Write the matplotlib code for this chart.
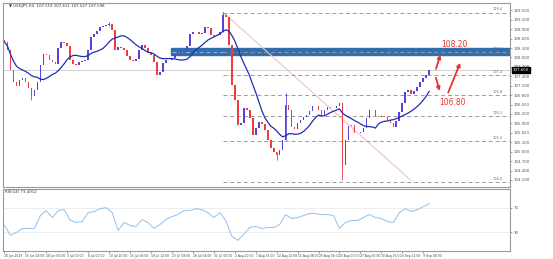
import matplotlib.pyplot as plt
import numpy as np
import pandas as pd
from matplotlib.ticker import MultipleLocator, FormatStrFormatter

# USDJPY H4 closes
closes = [108.49, 108.23, 107.60, 107.21, 107.09, 107.28, 107.34, 107.21, 107.02, 106.77,
          106.96, 107.21, 107.76, 108.10, 108.07, 107.91, 107.85, 107.79, 108.30, 108.49,
          108.45, 108.36, 107.91, 107.79, 107.76, 107.85, 107.88, 107.91, 108.23, 108.65,
          108.74, 108.84, 108.96, 108.99, 109.03, 109.06, 108.87, 108.23, 108.33, 108.30,
          108.23, 108.04, 107.91, 107.88, 107.95, 108.23, 108.39, 108.30, 108.17, 108.07,
          107.85, 107.44, 107.53, 107.82, 107.91, 107.91, 107.98, 108.07, 108.10, 108.17,
          108.20, 108.36, 108.74, 108.80, 108.80, 108.74, 108.77, 108.96, 108.93, 108.71,
          108.68, 108.71, 108.80, 109.35, 109.28, 108.39, 107.12, 106.64, 105.85, 105.91,
          106.39, 106.32, 106.07, 105.53, 105.75, 105.94, 105.88, 105.69, 105.37, 105.12,
          104.99, 104.89, 105.05, 105.37, 106.48, 106.32, 105.78, 105.72, 105.91, 106.01,
          106.10, 106.16, 106.29, 106.45, 106.45, 106.32, 106.16, 106.32, 106.42, 106.39,
          106.39, 106.45, 106.55, 104.58, 105.37, 105.82, 105.85, 105.59, 105.59, 105.62,
          105.75, 106.07, 106.32, 106.32, 106.13, 106.10, 106.13, 106.10, 106.01, 105.91,
          105.78, 105.97, 106.26, 106.55, 106.90, 106.96, 106.83, 106.93, 107.06, 107.21,
          107.34, 107.44, 107.60]

# wick extremes for a few spikes
spike_idx = [9, 35, 73, 91, 94, 113]
spike_hi = [107.02, 109.12, 109.44, 104.99, 106.86, 106.55]
spike_lo = [106.64, 108.99, 108.80, 104.73, 105.37, 104.10]

# RSI(14), one value every 2 bars
rsi = [41.2, 25.2, 30.0, 36.4, 36.4, 36.4, 57.2, 65.2, 54.0, 65.2,
       66.8, 49.2, 46.0, 47.6, 62.0, 63.6, 68.4, 70.0, 62.0, 33.2,
       46.0, 41.2, 39.6, 50.8, 46.0, 36.4, 42.8, 50.8, 55.6, 58.8,
       65.2, 65.2, 68.4, 66.8, 62.0, 54.0, 62.0, 49.2, 23.6, 17.2,
       26.8, 38.0, 39.6, 36.4, 38.0, 38.0, 42.8, 58.8, 52.4, 54.0,
       57.2, 60.4, 60.4, 58.8, 58.8, 57.2, 36.4, 46.0, 49.2, 49.2,
       54.0, 58.8, 54.0, 52.4, 47.6, 46.0, 62.0, 68.4, 63.6, 66.8,
       71.6, 76.4]

levels = [109.43, 108.17, 107.44, 106.80, 106.13, 105.34, 104.03]
level_text = ['109.4', '108.2', '107.4', '106.8', '106.1', '105.3', '104.0']
zone = (108.07, 108.30)

date_labels = ['20 Jun 2019', '25 Jun 04:00', '28 Jun 00:00', '3 Jul 00:00', '8 Jul 00:00',
               '10 Jul 20:00', '15 Jul 16:00', '18 Jul 12:00', '23 Jul 08:00', '26 Jul 04:00',
               '31 Jul 00:00', '2 Aug 20:00', '7 Aug 16:00', '12 Aug 12:00', '15 Aug 08:00',
               '20 Aug 04:00', '23 Aug 00:00', '27 Aug 20:00', '30 Aug 16:00', '4 Sep 12:00',
               '9 Sep 08:00']

n = len(closes)
x = np.arange(n)
c = np.array(closes)
o = np.r_[c[0] + 0.05, c[:-1]]
up = c >= o

fig = plt.figure(figsize=(5.53, 2.59), dpi=100)
ax = fig.add_axes([0.0054, 0.278, 0.9168, 0.710])
ax2 = fig.add_axes([0.0054, 0.031, 0.9168, 0.239])

# support / resistance zone and levels
ax.axhspan(zone[0], zone[1], xmin=(55.7 + 0.5) / 169.5, xmax=1, color='#2f6fad', zorder=1)
for lv, lt in zip(levels, level_text):
    ax.hlines(lv, 73, 169, colors='#9a9a9a', linestyles=(0, (4, 3)), lw=0.7, zorder=2)
    ax.text(166.5, lv + 0.04, lt, fontsize=2.5, color='#666666', ha='right', va='bottom')
ax.hlines(levels[1], 56, 73, colors='#9ab8d8', linestyles=(0, (4, 3)), lw=0.7, zorder=2)

# bid line
ax.axhline(c[-1], color='#c8c8c8', lw=0.6, zorder=1)

# trendline
ax.plot([73, 135.7], [109.44, 104.10], color='#f3c0c0', lw=0.8, zorder=1)

# candles
body = np.maximum(np.abs(c - o), 0.012)
cols = np.where(up, '#5a3fd8', '#ee3b3b')
ax.vlines(spike_idx, spike_lo, spike_hi, colors=[cols[i] for i in spike_idx], lw=0.6, zorder=3)
ax.bar(x, body, bottom=np.minimum(c, o), width=0.55, color=cols, zorder=3)

# moving average
ma = pd.Series(c).rolling(12, min_periods=1).mean()
ax.plot(x, ma, color='#1f2fb0', lw=0.9, zorder=4)

# scenario arrows
arr = dict(arrowstyle='-|>', color='#e8332a', lw=1.3, mutation_scale=5)
ax.annotate('', xy=(146, 108.17), xytext=(144, 107.55), arrowprops=arr)
ax.annotate('', xy=(145.7, 106.85), xytext=(144, 107.44), arrowprops=arr)
ax.annotate('', xy=(152.7, 107.91), xytext=(148, 106.80), arrowprops=arr)
ax.text(146, 108.42, '108.20', color='#e8332a', fontsize=5.5, ha='left', va='center')
ax.text(145.5, 106.58, '106.80', color='#e8332a', fontsize=5.5, ha='left', va='center')

ax.set_xlim(-0.5, 169)
ax.set_ylim(103.875, 109.73)
ax.yaxis.tick_right()
ax.yaxis.set_major_locator(MultipleLocator(0.3))
ax.yaxis.set_major_formatter(FormatStrFormatter('%.3f'))
ax.tick_params(axis='y', labelsize=2.8, colors='#555555', length=1.5, width=0.4, pad=1)
ax.set_xticks([])
ax.annotate('%.3f' % c[-1], xy=(1.0, c[-1]), xycoords=('axes fraction', 'data'),
            xytext=(2, 0), textcoords='offset points', fontsize=2.8, color='white',
            va='center', ha='left', bbox=dict(boxstyle='square,pad=0.25', fc='black', ec='black'))
ax.text(0.012, 0.995, '\u25bc USDJPY,H4  107.553 107.611 107.527 107.598', transform=ax.transAxes,
        fontsize=2.8, color='#333333', va='top', ha='left')

# RSI panel
rx = np.arange(len(rsi)) * 2
ax2.plot(rx, rsi, color='#8fc1ef', lw=0.7)
ax2.axhline(70, color='#e6e6e6', lw=0.5, zorder=0)
ax2.axhline(30, color='#e6e6e6', lw=0.5, zorder=0)
ax2.set_xlim(-0.5, 169)
ax2.set_ylim(0, 100)
ax2.yaxis.tick_right()
ax2.set_yticks([30, 70])
ax2.tick_params(axis='y', labelsize=2.8, colors='#555555', length=1.5, width=0.4, pad=1)
ax2.set_xticks(np.arange(len(date_labels)) * 7)
ax2.set_xticklabels(date_labels, ha='left')
ax2.tick_params(axis='x', labelsize=2.2, colors='#444444', length=1.2, width=0.4, pad=0.8)
ax2.text(0.003, 0.985, 'RSI(14) 73.4912', transform=ax2.transAxes, fontsize=2.8,
         color='#333333', va='top', ha='left')

for a in (ax, ax2):
    for s in a.spines.values():
        s.set_color('#9a9a9a')
        s.set_linewidth(0.8)

fig.savefig('out.png', dpi=100)
